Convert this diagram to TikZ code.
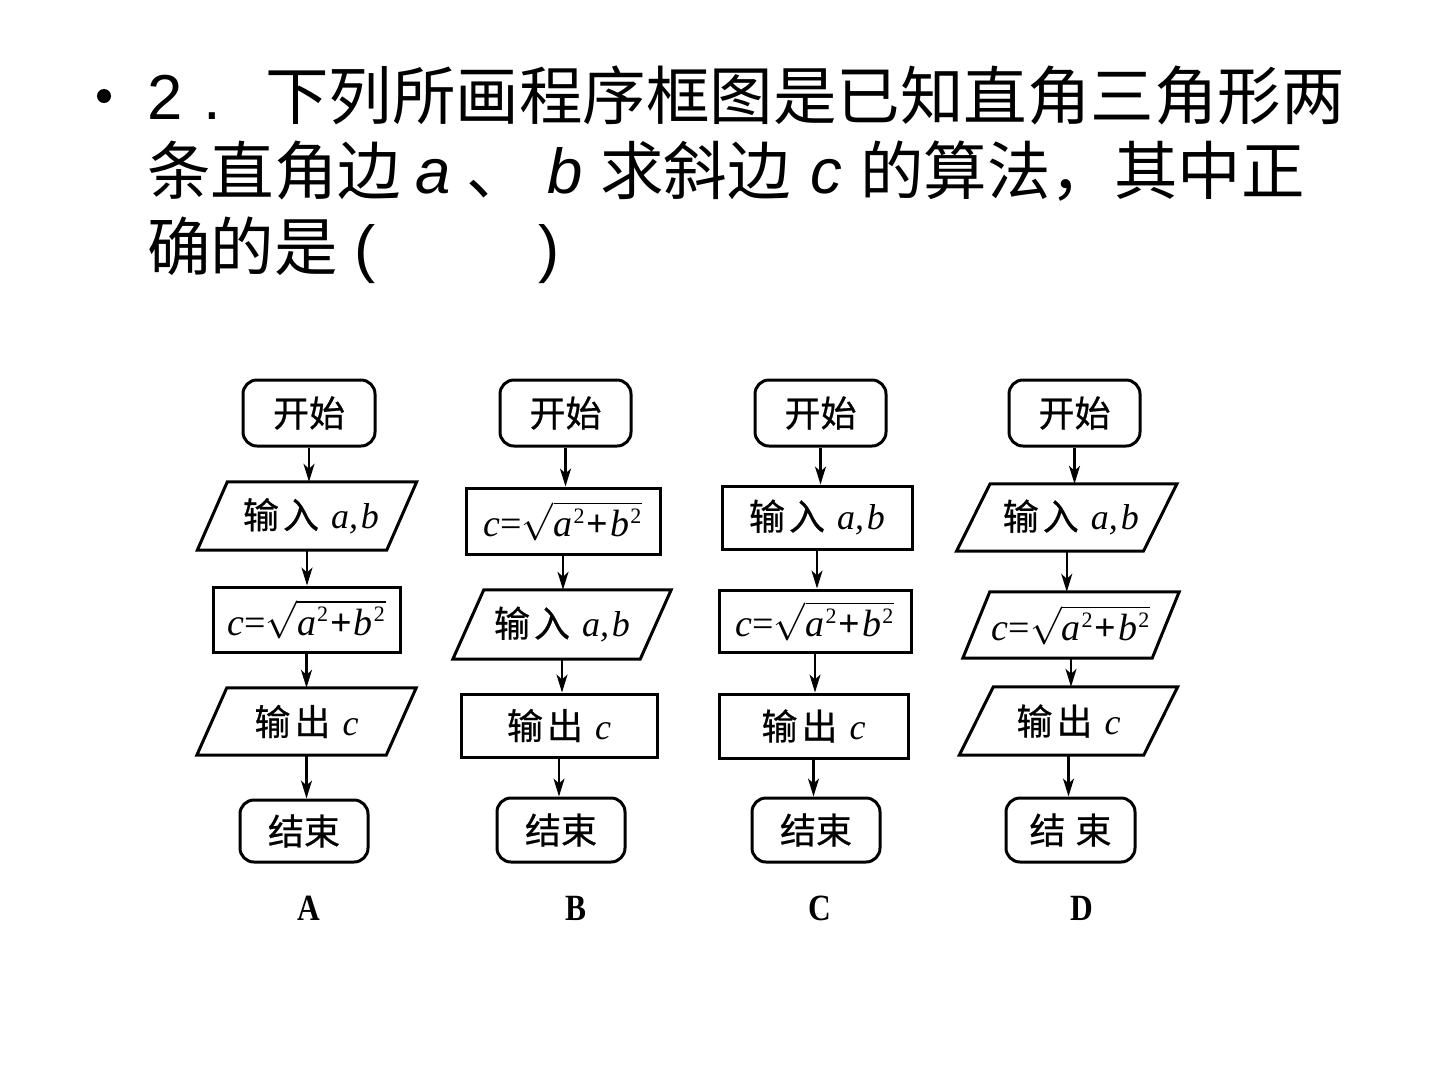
\RequirePackage{fix-cm}
\documentclass[tikz,border=0pt]{standalone}
\usepackage{graphicx}
\usepackage{fontspec}
\setmainfont{Liberation Serif}
\newfontfamily\cjk{Noto Sans CJK SC}
\newfontfamily\cjkb{Noto Sans CJK SC}[FakeBold=0.6]
\newfontfamily\arial{Liberation Sans}
\newfontfamily\tms{Liberation Serif}
\usetikzlibrary{arrows.meta}
\newcommand\supii{\raisebox{0.36em}{\fontsize{22}{22}\selectfont\upshape 2}}
\newcommand\frm{{\fontsize{38}{38}\selectfont\tms\itshape c\upshape=$\sqrt{\hbox{\itshape a\hspace{1pt}\supii\upshape\hspace{2pt}\textbf{+}\hspace{2pt}\itshape b\hspace{1pt}\supii\hspace{1pt}}}$}}
\newcommand\inab{{\cjkb 输\hspace{4pt}入}\hspace{12pt}{\tms\itshape a,\hspace{3pt}b}}
\newcommand\outc{{\cjkb 输\hspace{4pt}出}\hspace{12pt}{\tms\itshape c}}
\newcommand\pgm[7]{%
  \node[pgnode, minimum width=#4, minimum height=#5] (#1) at (#2,#3) {#7};
  \draw[frame] ([xshift=#6/2]#1.north west) -- ([xshift=#6/2]#1.north east)
    -- ([xshift=-#6/2]#1.south east) -- ([xshift=-#6/2]#1.south west) -- cycle;}
\tikzset{
  frame/.style={line width=3pt, line join=miter},
  box/.style={draw, line width=3pt, inner sep=0pt, font=\fontsize{36}{36}\selectfont},
  term/.style={box, rounded corners=14pt},
  pgnode/.style={inner sep=0pt, font=\fontsize{36}{36}\selectfont},
  arr/.style={line width=2.2pt, -{Stealth[length=18pt, width=11pt, inset=5pt]}},
  tt/.style={inner sep=0pt, anchor=base west, font=\fontsize{63.5}{63.5}\selectfont},
  lab/.style={inner sep=0pt, font=\fontsize{37}{37}\selectfont\tms\bfseries}
}
\begin{document}
\begin{tikzpicture}[x=1pt,y=-1pt]
\useasboundingbox (0,0) rectangle (1440,1080);
\fill[white] (0,0) rectangle (1440,1080);
% ---- title ----
\fill[black] (104,96) circle (7);
\node[tt] (t1a) at (147,119) {\arial 2};
\node[tt] (t1b) at (203,119) {\arial .};
\node[tt] (t1c) at (265,119) {\cjk 下列所画程序框图是已知直角三角形两};
\node[tt] (t2a) at (147,194) {\cjk 条直角边};
\node[tt] (t2b) at (415,193) {\arial\itshape a};
\node[tt] (t2c) at (466,194) {\cjk 、};
\node[tt] (t2d) at (547,193) {\arial\itshape b};
\node[tt] (t2e) at (600,194) {\cjk 求斜边};
\node[tt] (t2f) at (810,193) {\arial\itshape c};
\node[tt] (t2g) at (860,194) {\cjk 的算法，其中正};
\node[tt] (t3a) at (147,270) {\cjk 确的是};
\node[tt] (t3b) at (354,270) {\arial (};
\node[tt] (t3c) at (538,270) {\arial )};
% ---- column A ----
\node[term, minimum width=132, minimum height=66] (A1) at (309,413) {\cjkb 开始};
\pgm{A2}{307}{516}{189}{68}{30}{\hspace{8pt}\inab}
\node[box, minimum width=187, minimum height=65] (A3) at (306.5,619.5) {\frm};
\pgm{A4}{306.5}{721.5}{189}{67}{30}{\outc}
\node[term, minimum width=128, minimum height=62] (A5) at (304,831) {\cjkb 结束};
\node[lab] (LA) at (309,908) {\scalebox{0.85}[1]{A}};
\draw[arr] (A1.south) -- (A1.south |- A2.north);
\draw[arr] (A2.south) -- (A2.south |- A3.north);
\draw[arr] (A3.south) -- (A3.south |- A4.north);
\draw[arr] (A4.south) -- (A4.south |- A5.north);
% ---- column B ----
\node[term, minimum width=131, minimum height=66] (B1) at (565.5,413) {\cjkb 开始};
\node[box, minimum width=194, minimum height=66] (B2) at (563,521) {\frm};
\pgm{B3}{562}{624.5}{187}{69}{31}{\inab}
\node[box, minimum width=196, minimum height=63] (B4) at (559,725.5) {\outc};
\node[term, minimum width=128, minimum height=64] (B5) at (561,830) {\cjkb 结束};
\node[lab] (LB) at (576,908) {\scalebox{0.85}[1]{B}};
\draw[arr] (B1.south) -- (B1.south |- B2.north);
\draw[arr] (B2.south) -- (B2.south |- B3.north);
\draw[arr] (B3.south) -- (B3.south |- B4.north);
\draw[arr] (B4.south) -- (B4.south |- B5.north);
% ---- column C ----
\node[term, minimum width=131, minimum height=66] (C1) at (820.5,413) {\cjkb 开始};
\node[box, minimum width=190, minimum height=63] (C2) at (817,517.5) {\inab};
\node[box, minimum width=192, minimum height=62] (C3) at (815,621) {\frm};
\node[box, minimum width=189, minimum height=64] (C4) at (813.5,726) {\outc};
\node[term, minimum width=128, minimum height=64] (C5) at (816,830) {\cjkb 结束};
\node[lab] (LC) at (820,908) {\scalebox{0.85}[1]{C}};
\draw[arr] (C1.south) -- (C1.south |- C2.north);
\draw[arr] (C2.south) -- (C2.south |- C3.north);
\draw[arr] (C3.south) -- (C3.south |- C4.north);
\draw[arr] (C4.south) -- (C4.south |- C5.north);
% ---- column D ----
\node[term, minimum width=131, minimum height=66] (D1) at (1074.5,413) {\cjkb 开始};
\pgm{D2}{1066.75}{517.5}{186.5}{67}{33.5}{\hspace{8pt}\inab}
\pgm{D3}{1071}{625}{189}{66}{27}{\frm}
\pgm{D4}{1068.5}{721}{184}{68}{34}{\outc}
\node[term, minimum width=129, minimum height=64] (D5) at (1070.5,830) {\cjkb 结\hspace{10pt}束};
\node[lab] (LD) at (1082,908) {\scalebox{0.85}[1]{D}};
\draw[arr] (D1.south) -- (D1.south |- D2.north);
\draw[arr] (D2.south) -- (D2.south |- D3.north);
\draw[arr] (D3.south) -- (D3.south |- D4.north);
\draw[arr] (D4.south) -- (D4.south |- D5.north);
\end{tikzpicture}
\end{document}
